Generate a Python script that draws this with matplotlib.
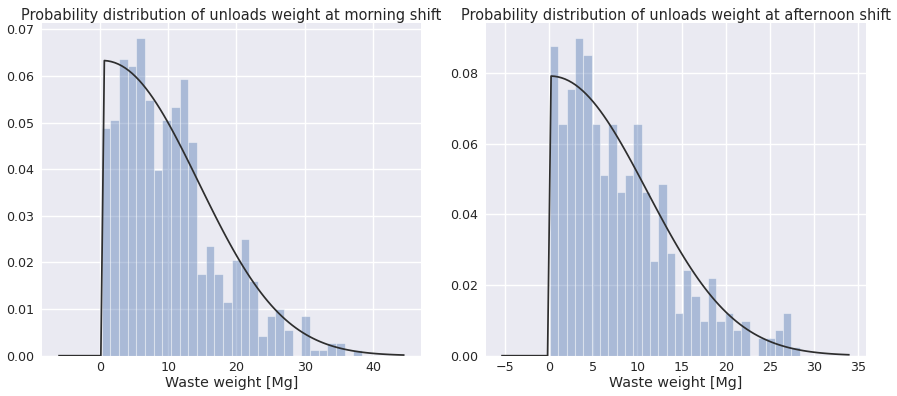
import numpy as np
import matplotlib
matplotlib.use("Agg")
import matplotlib.pyplot as plt
from matplotlib.ticker import FormatStrFormatter

# Histogram heights (probability density), 30 equal-width bins per shift
morning_density = [0.0489, 0.0505, 0.0637, 0.0621, 0.0681, 0.0548, 0.0399, 0.0505,
                   0.0534, 0.0593, 0.0459, 0.0175, 0.0236, 0.0175, 0.0116, 0.0205,
                   0.0250, 0.0161, 0.0042, 0.0086, 0.0101, 0.0055, 0.0000, 0.0086,
                   0.0012, 0.0012, 0.0027, 0.0027, 0.0000, 0.0012]
afternoon_density = [0.0877, 0.0657, 0.0755, 0.0901, 0.0852, 0.0657, 0.0511, 0.0657,
                     0.0463, 0.0511, 0.0657, 0.0463, 0.0268, 0.0487, 0.0292, 0.0122,
                     0.0244, 0.0170, 0.0097, 0.0219, 0.0097, 0.0122, 0.0073, 0.0097,
                     0.0000, 0.0049, 0.0049, 0.0073, 0.0122, 0.0024]

# Range of unload weights [Mg] covered by the bins
morning_range = (0.245, 38.39)
afternoon_range = (0.11, 28.36)

# Fitted density: peak * exp(-((x - start) / scale) ** shape) for x >= start
morning_fit = {"peak": 0.0633, "scale": 19.1, "shape": 2.15, "start": 0.2}
afternoon_fit = {"peak": 0.0792, "scale": 14.9, "shape": 2.12, "start": 0.05}
morning_support = (-6.0, 44.5)
afternoon_support = (-5.3, 33.9)

titles = ["Probability distribution of unloads weight at morning shift",
          "Probability distribution of unloads weight at afternoon shift"]
xlabel = "Waste weight [Mg]"
morning_xticks = [0, 10, 20, 30, 40]
morning_yticks = [0.00, 0.01, 0.02, 0.03, 0.04, 0.05, 0.06, 0.07]
afternoon_xticks = [-5, 0, 5, 10, 15, 20, 25, 30, 35]
afternoon_yticks = [0.00, 0.02, 0.04, 0.06, 0.08]

BG = "#EAEAF2"
TEXT = "#262626"
BLUE = "#4C72B0"
LINE = "#2E2E2E"

W, H = 897, 396
fig = plt.figure(figsize=(W / 100, H / 100), dpi=100)


def px_axes(x0, x1, top, bottom):
    return fig.add_axes([x0 / W, 1 - bottom / H, (x1 - x0) / W, (bottom - top) / H])


ax1 = px_axes(41.7, 420.7, 22.7, 355.7)
ax2 = px_axes(485.7, 866.0, 22.7, 355.7)


def fitted_curve(fit, support):
    x = np.linspace(support[0], support[1], 100)
    z = np.clip(x - fit["start"], 0, None) / fit["scale"]
    y = np.where(x >= fit["start"], fit["peak"] * np.exp(-z ** fit["shape"]), 0.0)
    return x, y


def draw_panel(ax, density, rng, fit, support, xticks, yticks, xlim, ylim, title):
    ax.set_facecolor(BG)
    for s in ax.spines.values():
        s.set_visible(False)
    ax.set_axisbelow(True)
    ax.grid(True, color="white", linewidth=1.0)

    edges = np.linspace(rng[0], rng[1], len(density) + 1)
    ax.bar(edges[:-1], density, width=np.diff(edges), align="edge",
           color=BLUE, alpha=0.4, edgecolor="white", linewidth=0.8)

    cx, cy = fitted_curve(fit, support)
    ax.plot(cx, cy, color=LINE, linewidth=1.25)

    ax.set_xticks(xticks)
    ax.set_yticks(yticks)
    ax.yaxis.set_major_formatter(FormatStrFormatter("%.2f"))
    ax.set_xlim(*xlim)
    ax.set_ylim(*ylim)
    ax.tick_params(axis="both", length=0, labelsize=9.1, colors=TEXT)
    ax.tick_params(axis="x", pad=3.7)
    ax.tick_params(axis="y", pad=5.3)
    ax.set_title(title, fontsize=10.45, color=TEXT, pad=1.5)
    ax.set_xlabel(xlabel, fontsize=10.3, color=TEXT, labelpad=1.5)


draw_panel(ax1, morning_density, morning_range, morning_fit, morning_support,
           morning_xticks, morning_yticks, (-8.55, 47.0), (0, 0.0714), titles[0])
draw_panel(ax2, afternoon_density, afternoon_range, afternoon_fit, afternoon_support,
           afternoon_xticks, afternoon_yticks, (-7.15, 35.85), (0, 0.0943), titles[1])

fig.savefig("out.png", dpi=100)
